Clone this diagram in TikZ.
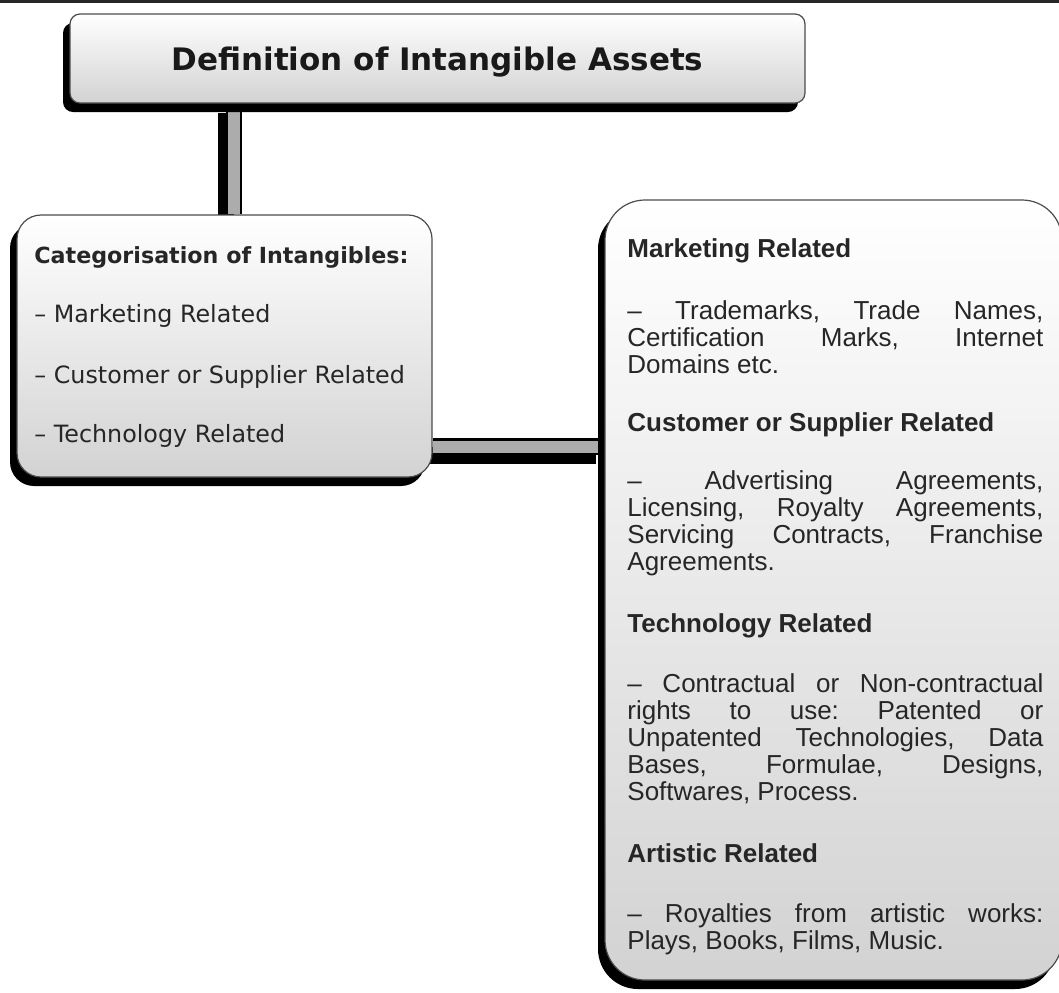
\documentclass[tikz,border=0pt]{standalone}
\usepackage{fontspec}
\setmainfont{Liberation Sans}
\newfontfamily\tahoma{DejaVu Sans}
\usetikzlibrary{shadows}
\pgfdeclarelayer{back}
\pgfdeclarelayer{pipes}
\pgfsetlayers{back,pipes,main}
\hbadness=10000
\frenchspacing

\tikzset{
  bevelbox/.style={rectangle, draw=black!70, line width=0.6pt, inner sep=0pt,
    top color=white, bottom color=gray!35,
    drop shadow={shadow xshift=-3.5pt, shadow yshift=-4.5pt, fill=black, opacity=1}},
  pipe/.style={draw=black, line width=8.4pt,
    preaction={draw=black, line width=8.4pt, transform canvas={shift={(-4pt,-4.5pt)}}},
    postaction={draw=gray!65, line width=6pt}},
  cathead/.style={anchor=base west, inner sep=0pt, text=black!85,
    font=\tahoma\bfseries\fontsize{11.1}{13}\selectfont},
  catitem/.style={anchor=base west, inner sep=0pt, text=black!85,
    font=\tahoma\fontsize{11.9}{14}\selectfont},
  headtext/.style={anchor=base west, inner sep=0pt, text=black!85,
    font=\bfseries\fontsize{13}{13.5}\selectfont},
  bodytext/.style={anchor=base west, inner sep=0pt, text=black!85,
    text width=208pt, align=justify, font=\fontsize{13}{13.5}\selectfont}
}

\begin{document}
\begin{tikzpicture}[x=0.5pt, y=-0.5pt]
  \begin{pgfonlayer}{back}
    \fill[white] (0,0) rectangle (1059,992);
  \end{pgfonlayer}
  \useasboundingbox (0,0) rectangle (1059,992);
  \draw[black!85, line width=1.5pt] (0,1.5) -- (1059,1.5);

  % boxes
  \node[bevelbox, rounded corners=5pt, minimum width=367.5pt, minimum height=44.5pt,
    text depth=0pt, text=black!90, font=\tahoma\bfseries\fontsize{15.5}{18}\selectfont]
    (defn) at (437.5,58.5) {Definition of Intangible Assets};
  \node[bevelbox, rounded corners=12pt, minimum width=207.5pt, minimum height=131pt]
    (cats) at (224.5,346) {};
  \node[bevelbox, rounded corners=20pt, minimum width=228.5pt, minimum height=390pt]
    (types) at (833.5,590) {};

  % left box
  \node[cathead] (cats-head) at (34,263) {Categorisation of Intangibles:};
  \node[catitem] (cats-mkt) at (34,322) {– Marketing Related};
  \node[catitem] (cats-cus) at (34,383) {– Customer or Supplier Related};
  \node[catitem] (cats-tech) at (34,442) {– Technology Related};

  % right box
  \node[headtext] (mkt-head) at (627,257) {Marketing Related};
  \node[bodytext] (mkt-text) at (627,319)
    {– Trademarks, Trade Names,\linebreak Certification Marks, Internet\linebreak Domains etc.};
  \node[headtext] (cus-head) at (627,431) {Customer or Supplier Related};
  \node[bodytext] (cus-text) at (627,489)
    {– Advertising Agreements,\linebreak Licensing, Royalty Agreements,\linebreak Servicing Contracts, Franchise\linebreak Agreements.};
  \node[headtext] (tech-head) at (627,632) {Technology Related};
  \node[bodytext] (tech-text) at (627,692)
    {– Contractual or Non-contractual\linebreak rights to use: Patented or\linebreak Unpatented Technologies, Data\linebreak Bases, Formulae, Designs,\linebreak Softwares, Process.};
  \node[headtext] (art-head) at (627,862) {Artistic Related};
  \node[bodytext] (art-text) at (627,922)
    {– Royalties from artistic works:\linebreak Plays, Books, Films, Music.};

  % connectors
  \coordinate (vpipe) at (234,0);
  \coordinate (hpipe) at (0,446.5);
  \begin{pgfonlayer}{pipes}
    \draw[pipe] (defn.south -| vpipe) -- (cats.north -| vpipe);
    \draw[pipe] (cats.east |- hpipe) -- (types.west |- hpipe);
  \end{pgfonlayer}
\end{tikzpicture}
\end{document}
